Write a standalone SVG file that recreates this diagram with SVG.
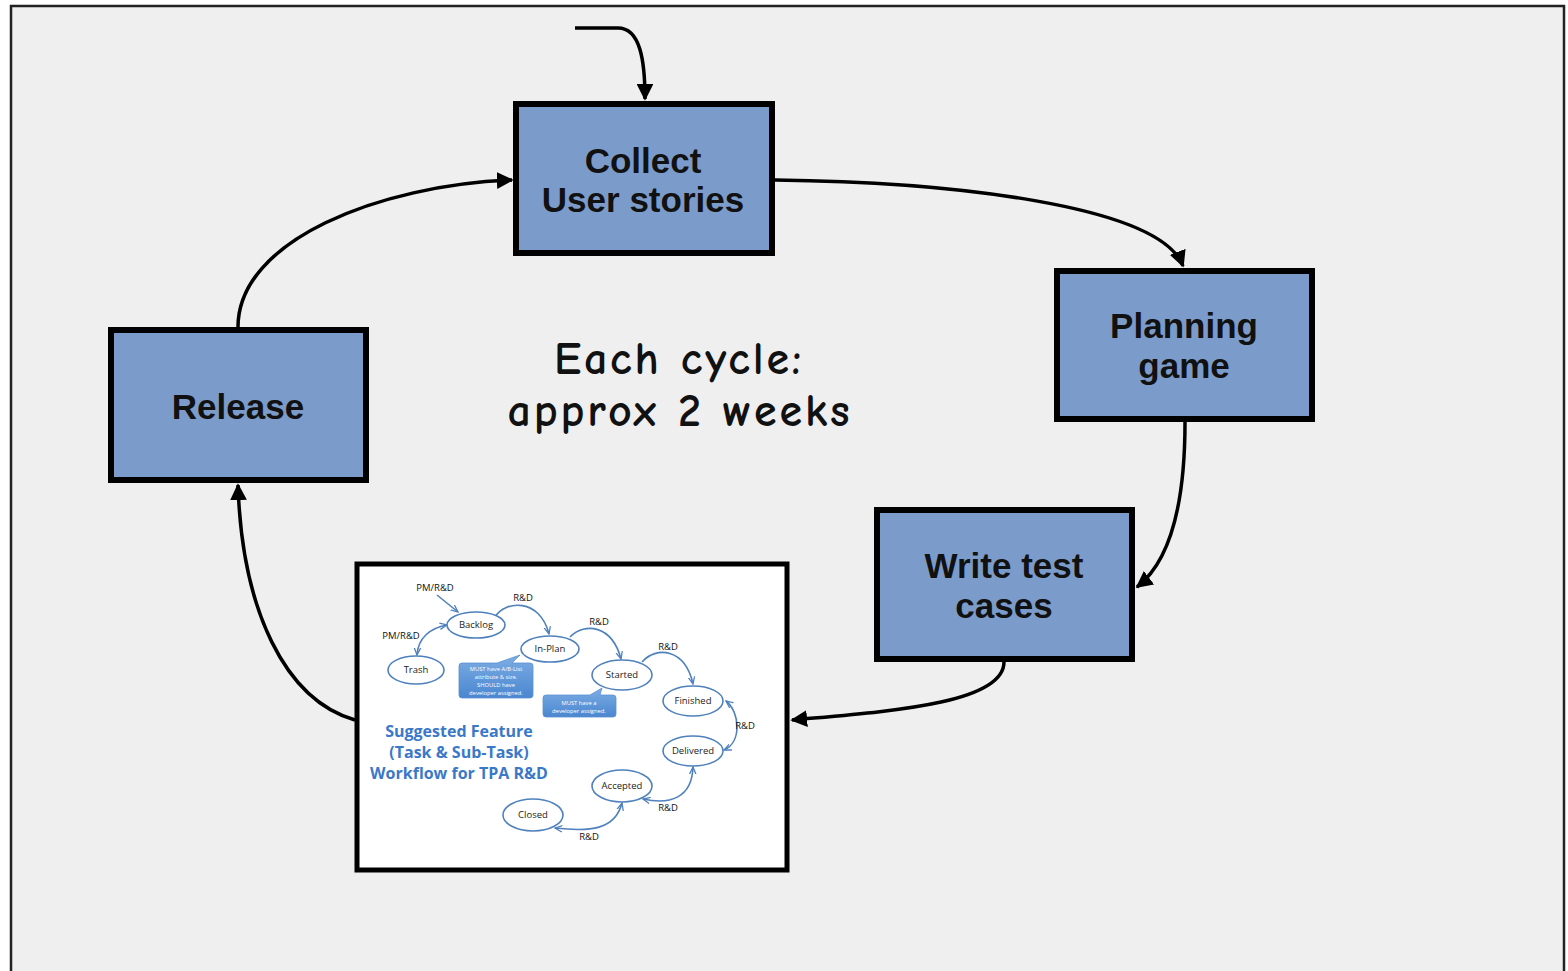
<svg xmlns="http://www.w3.org/2000/svg" width="1568" height="971" viewBox="0 0 1568 971">
<defs>
<style>
.box{fill:#7b9cca;stroke:#000;stroke-width:6}
.lbl{font-family:"Liberation Sans",Arial,sans-serif;font-weight:bold;font-size:35px;fill:#111;text-anchor:middle}
.con{fill:none;stroke:#000;stroke-width:3.5}
.cyc{font-family:"Comic Sans MS","Comic Neue","DejaVu Sans",sans-serif;font-weight:bold;font-size:46px;letter-spacing:2.8px;fill:#111;text-anchor:middle}
.st{fill:#fff;stroke:#4f81bd;stroke-width:1.6}
.stt{font-family:"Open Sans","Liberation Sans",sans-serif;font-size:9.5px;fill:#222;text-anchor:middle}
.ba{fill:none;stroke:#4f81bd;stroke-width:1.6}
.rd{font-family:"Open Sans","Liberation Sans",sans-serif;font-size:9.5px;fill:#111;text-anchor:middle}
.co{fill:url(#cg);stroke:#5b8fd0;stroke-width:0.8}
.cot{font-family:"Open Sans","Liberation Sans",sans-serif;font-size:5.8px;fill:#fff;text-anchor:middle}
.ttl{font-family:"Open Sans","Liberation Sans",sans-serif;font-weight:bold;font-size:16px;fill:#3a78c8;text-anchor:middle}
</style>
<linearGradient id="cg" x1="0" y1="0" x2="0" y2="1">
<stop offset="0" stop-color="#7eaee4"/>
<stop offset="1" stop-color="#4a86d0"/>
</linearGradient>
<marker id="ah" viewBox="0 0 10 10" refX="9" refY="5" markerWidth="4.8" markerHeight="4.8" orient="auto" markerUnits="strokeWidth">
<path d="M0,0 L10,5 L0,10 z" fill="#000"/>
</marker>
<marker id="bh" viewBox="0 0 10 10" refX="9" refY="5" markerWidth="5" markerHeight="5" orient="auto-start-reverse" markerUnits="strokeWidth">
<path d="M0,1 L9,5 L0,9" fill="none" stroke="#4f81bd" stroke-width="1.6"/>
</marker>
</defs>
<rect x="0" y="0" width="1568" height="971" fill="#fff"/>
<rect x="11" y="6" width="1553" height="980" fill="#efefef" stroke="#222" stroke-width="2.5"/>

<g id="connectors">
<path class="con" d="M575,28 L618,28 C640,28 645,60 645,99" marker-end="url(#ah)"/>
<path class="con" d="M775,180 C950,182 1160,205 1183,266" marker-end="url(#ah)"/>
<path class="con" d="M1185,422 C1185,500 1172,560 1137,587" marker-end="url(#ah)"/>
<path class="con" d="M1004,662 C1004,705 880,712 792,720" marker-end="url(#ah)"/>
<path class="con" d="M355,720 C285,700 242,610 238,485" marker-end="url(#ah)"/>
<path class="con" d="M238,327 C238,240 380,185 512,180" marker-end="url(#ah)"/>
</g>

<g id="collect">
<rect class="box" x="516" y="104" width="256" height="149"/>
<text class="lbl" x="643" y="173">Collect</text>
<text class="lbl" x="643" y="212">User stories</text>
</g>
<g id="planning">
<rect class="box" x="1057" y="271" width="255" height="148"/>
<text class="lbl" x="1184" y="338">Planning</text>
<text class="lbl" x="1184" y="378">game</text>
</g>
<g id="writetest">
<rect class="box" x="877" y="510" width="255" height="149"/>
<text class="lbl" x="1004" y="578">Write test</text>
<text class="lbl" x="1004" y="618">cases</text>
</g>
<g id="release">
<rect class="box" x="111" y="330" width="255" height="150"/>
<text class="lbl" x="238" y="419">Release</text>
</g>

<g id="cycle-note">
<text class="cyc" x="679" y="374">Each cycle:</text>
<text class="cyc" x="680" y="426">approx 2 weeks</text>
</g>

<g id="workflow">
<rect x="357" y="564" width="430" height="306" fill="#fff" stroke="#000" stroke-width="5"/>
<g id="wf-arrows">
<path class="ba" d="M437,595 L458,612" marker-end="url(#bh)"/>
<path class="ba" d="M447,625 C430,628 418,638 417,655" marker-start="url(#bh)" marker-end="url(#bh)"/>
<path class="ba" d="M495,617 C505,600 540,598 549,634" marker-end="url(#bh)"/>
<path class="ba" d="M570,637 C585,622 612,625 621,659" marker-end="url(#bh)"/>
<path class="ba" d="M642,662 C656,646 685,648 693,684" marker-end="url(#bh)"/>
<path class="ba" d="M726,701 C740,712 742,742 724,750" marker-start="url(#bh)" marker-end="url(#bh)"/>
<path class="ba" d="M693,767 C692,798 670,805 643,799" marker-start="url(#bh)" marker-end="url(#bh)"/>
<path class="ba" d="M622,803 C615,830 590,832 555,828" marker-start="url(#bh)" marker-end="url(#bh)"/>
</g>
<text class="rd" x="435" y="591">PM/R&amp;D</text>
<text class="rd" x="401" y="639">PM/R&amp;D</text>
<text class="rd" x="523" y="601">R&amp;D</text>
<text class="rd" x="599" y="625">R&amp;D</text>
<text class="rd" x="668" y="650">R&amp;D</text>
<text class="rd" x="745" y="729">R&amp;D</text>
<text class="rd" x="668" y="811">R&amp;D</text>
<text class="rd" x="589" y="840">R&amp;D</text>
<g id="st-backlog"><ellipse class="st" cx="476" cy="625" rx="29" ry="13"/><text class="stt" x="476" y="628">Backlog</text></g>
<g id="st-trash"><ellipse class="st" cx="416" cy="670" rx="28" ry="14"/><text class="stt" x="416" y="673">Trash</text></g>
<g id="st-inplan"><ellipse class="st" cx="550" cy="649" rx="29" ry="13"/><text class="stt" x="550" y="652">In-Plan</text></g>
<g id="st-started"><ellipse class="st" cx="622" cy="675" rx="30" ry="15"/><text class="stt" x="622" y="678">Started</text></g>
<g id="st-finished"><ellipse class="st" cx="693" cy="701" rx="30" ry="15"/><text class="stt" x="693" y="704">Finished</text></g>
<g id="st-delivered"><ellipse class="st" cx="693" cy="751" rx="30" ry="15"/><text class="stt" x="693" y="754">Delivered</text></g>
<g id="st-accepted"><ellipse class="st" cx="622" cy="786" rx="30" ry="16"/><text class="stt" x="622" y="789">Accepted</text></g>
<g id="st-closed"><ellipse class="st" cx="533" cy="815" rx="30" ry="16"/><text class="stt" x="533" y="818">Closed</text></g>
<g id="callout1">
<path class="co" d="M462,663 L497,663 L520,655 L512,663 L530,663 Q533,663 533,666 L533,695 Q533,698 530,698 L462,698 Q459,698 459,695 L459,666 Q459,663 462,663 z"/>
<text class="cot" x="496" y="671">MUST have A/B-List</text>
<text class="cot" x="496" y="679">attribute &amp; size.</text>
<text class="cot" x="496" y="687">SHOULD have</text>
<text class="cot" x="496" y="695">developer assigned.</text>
</g>
<g id="callout2">
<path class="co" d="M546,695 L590,695 L602,688 L600,695 L613,695 Q616,695 616,698 L616,714 Q616,717 613,717 L546,717 Q543,717 543,714 L543,698 Q543,695 546,695 z"/>
<text class="cot" x="579" y="705">MUST have a</text>
<text class="cot" x="579" y="713">developer assigned.</text>
</g>
<text class="ttl" x="459" y="737">Suggested Feature</text>
<text class="ttl" x="459" y="758">(Task &amp; Sub-Task)</text>
<text class="ttl" x="459" y="779">Workflow for TPA R&amp;D</text>
</g>
</svg>
